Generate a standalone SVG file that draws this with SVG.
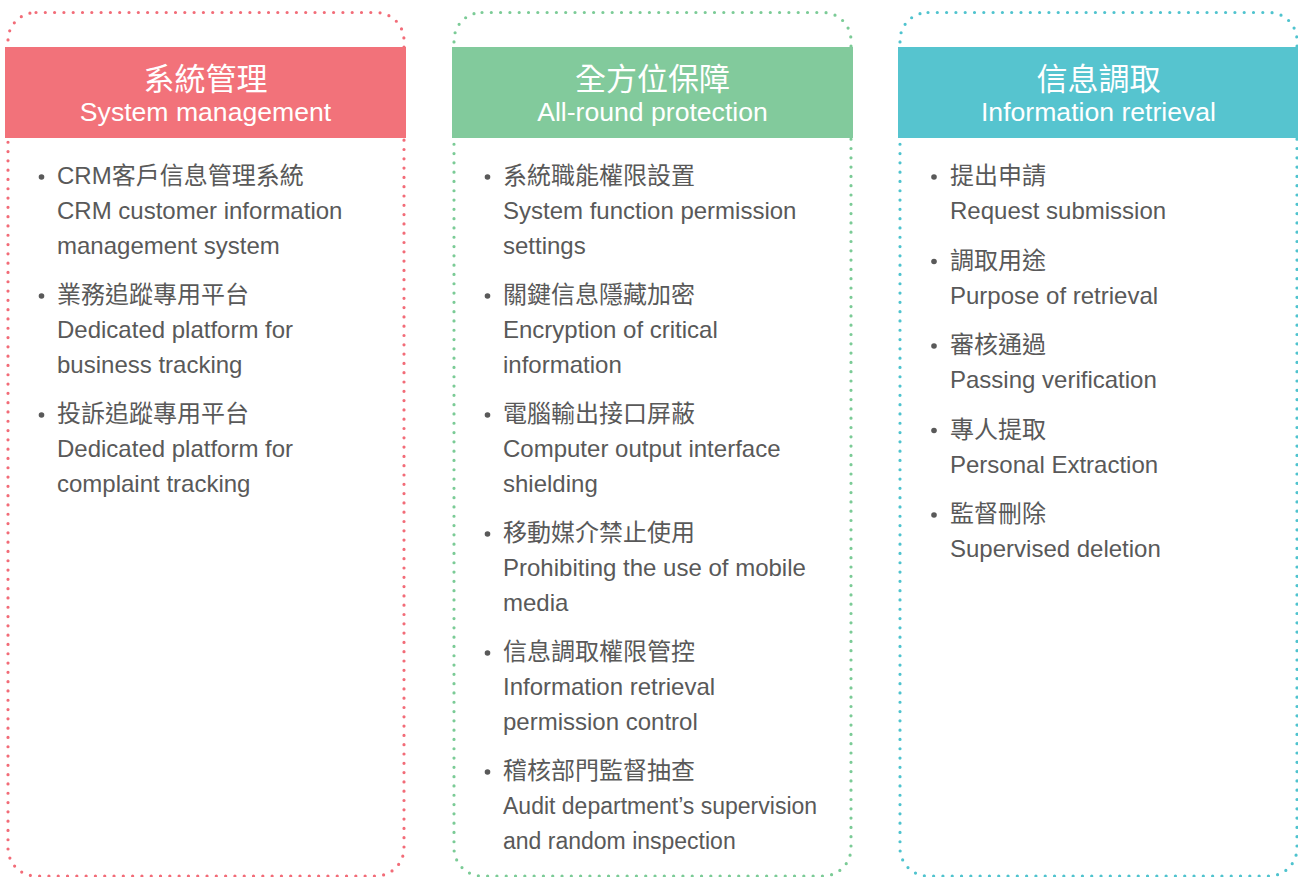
<svg xmlns="http://www.w3.org/2000/svg" width="1298" height="877" viewBox="0 0 1298 877">
<style>
.frame{fill:none;stroke-width:3.2;stroke-linecap:round;stroke-dasharray:0 9.3}
.t1{font-family:"Liberation Sans","Noto Sans CJK TC",sans-serif;font-size:31px;fill:#fff;text-anchor:middle}
.t2{font-family:"Liberation Sans","Noto Sans CJK TC",sans-serif;font-size:26.6px;fill:#fff;text-anchor:middle}
.b{font-family:"Liberation Sans","Noto Sans CJK TC",sans-serif;font-size:24px;fill:#595959}
.sm{font-size:23px}
.dot{fill:#595959}
</style>
<g id="col-system">
<rect class="frame" x="8" y="12.5" width="396" height="863.5" rx="28" stroke="#F26C78"/>
<rect x="5" y="47" width="401" height="91" fill="#F2727A"/>
<text class="t1" x="205.5" y="89.5">系統管理</text>
<text class="t2" x="205.5" y="121">System management</text>
<g class="b">
<circle class="dot" cx="41.5" cy="177" r="2.8"/>
<text x="57" y="184">CRM客戶信息管理系統</text>
<text x="57" y="219">CRM customer information</text>
<text x="57" y="254">management system</text>
<circle class="dot" cx="41.5" cy="296" r="2.8"/>
<text x="57" y="303">業務追蹤專用平台</text>
<text x="57" y="338">Dedicated platform for</text>
<text x="57" y="373">business tracking</text>
<circle class="dot" cx="41.5" cy="415" r="2.8"/>
<text x="57" y="422">投訴追蹤專用平台</text>
<text x="57" y="457">Dedicated platform for</text>
<text x="57" y="492">complaint tracking</text>
</g>
</g>
<g id="col-protection">
<rect class="frame" x="454" y="12.5" width="397" height="863.5" rx="28" stroke="#7BCB96"/>
<rect x="452" y="47" width="401" height="91" fill="#82CA9C"/>
<text class="t1" x="652.5" y="89.5">全方位保障</text>
<text class="t2" x="652.5" y="121">All-round protection</text>
<g class="b">
<circle class="dot" cx="487.5" cy="177" r="2.8"/>
<text x="503" y="184">系統職能權限設置</text>
<text x="503" y="219">System function permission</text>
<text x="503" y="254">settings</text>
<circle class="dot" cx="487.5" cy="296" r="2.8"/>
<text x="503" y="303">關鍵信息隱藏加密</text>
<text x="503" y="338">Encryption of critical</text>
<text x="503" y="373">information</text>
<circle class="dot" cx="487.5" cy="415" r="2.8"/>
<text x="503" y="422">電腦輸出接口屏蔽</text>
<text x="503" y="457">Computer output interface</text>
<text x="503" y="492">shielding</text>
<circle class="dot" cx="487.5" cy="534" r="2.8"/>
<text x="503" y="541">移動媒介禁止使用</text>
<text x="503" y="576">Prohibiting the use of mobile</text>
<text x="503" y="611">media</text>
<circle class="dot" cx="487.5" cy="653" r="2.8"/>
<text x="503" y="660">信息調取權限管控</text>
<text x="503" y="695">Information retrieval</text>
<text x="503" y="730">permission control</text>
<circle class="dot" cx="487.5" cy="772" r="2.8"/>
<text x="503" y="779">稽核部門監督抽查</text>
<text class="sm" x="503" y="814">Audit department’s supervision</text>
<text class="sm" x="503" y="849">and random inspection</text>
</g>
</g>
<g id="col-retrieval">
<rect class="frame" x="900" y="12.5" width="397" height="863.5" rx="28" stroke="#4FC3CE"/>
<rect x="898" y="47" width="401" height="91" fill="#56C4CF"/>
<text class="t1" x="1098.5" y="89.5">信息調取</text>
<text class="t2" x="1098.5" y="121">Information retrieval</text>
<g class="b">
<circle class="dot" cx="934" cy="177" r="2.8"/>
<text x="950" y="184">提出申請</text>
<text x="950" y="219">Request submission</text>
<circle class="dot" cx="934" cy="261.5" r="2.8"/>
<text x="950" y="268.5">調取用途</text>
<text x="950" y="303.5">Purpose of retrieval</text>
<circle class="dot" cx="934" cy="346" r="2.8"/>
<text x="950" y="353">審核通過</text>
<text x="950" y="388">Passing verification</text>
<circle class="dot" cx="934" cy="430.5" r="2.8"/>
<text x="950" y="437.5">專人提取</text>
<text x="950" y="472.5">Personal Extraction</text>
<circle class="dot" cx="934" cy="515" r="2.8"/>
<text x="950" y="522">監督刪除</text>
<text x="950" y="557">Supervised deletion</text>
</g>
</g>
<g id="connectors"/>
</svg>
